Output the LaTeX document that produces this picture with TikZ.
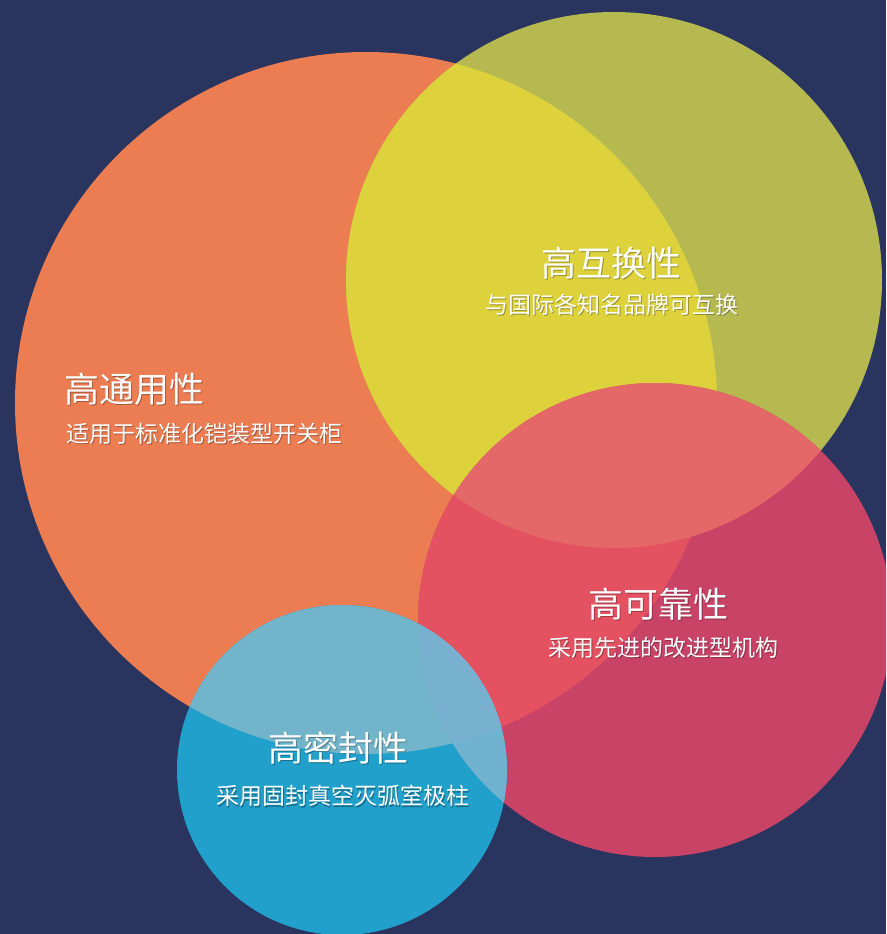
\documentclass[tikz,border=0pt]{standalone}
\usepackage{fontspec}
\newfontfamily\cjk{Noto Sans CJK SC}
\definecolor{navy}{HTML}{29345F}
\definecolor{corange}{HTML}{EC7D52}
\definecolor{colive}{HTML}{B5B950}
\definecolor{cyellow}{HTML}{DDD23C}
\definecolor{cpink}{HTML}{C84366}
\definecolor{cred}{HTML}{E45161}
\definecolor{csalmon}{HTML}{E36867}
\definecolor{cblue}{HTML}{21A0CB}
\definecolor{clblue}{HTML}{72B5CA}
\definecolor{cpblue}{HTML}{70B2CF}
\definecolor{copblue}{HTML}{78B0CF}
\tikzset{
  title/.style={text=white, font=\cjk\fontsize{35}{40}\selectfont, inner sep=0pt},
  sub/.style={text=white, font=\cjk\fontsize{23}{27}\selectfont, inner sep=0pt},
  shade/.style={text=black, opacity=0.3, inner sep=0pt},
}
\begin{document}
\begin{tikzpicture}[x=1pt, y=-1pt]
\useasboundingbox (0,0) rectangle (886,934);
\clip (0,0) rectangle (886,934);
\fill[navy] (0,0) rectangle (886,934);
\coordinate (co) at (366,403);
\coordinate (cy) at (614,280);
\coordinate (cp) at (655,620);
\coordinate (cb) at (342,770);
% base circles
\fill[corange] (co) circle (351pt);
\fill[colive] (cy) circle (268pt);
\fill[cpink] (cp) circle (237pt);
\fill[cblue] (cb) circle (165pt);
% overlaps
\begin{scope}\clip (co) circle (351pt); \fill[cyellow] (cy) circle (268pt); \end{scope}
\begin{scope}\clip (co) circle (351pt); \fill[cred] (cp) circle (237pt); \end{scope}
\begin{scope}\clip (cy) circle (268pt); \fill[csalmon] (cp) circle (237pt); \end{scope}
\begin{scope}\clip (co) circle (351pt); \fill[clblue] (cb) circle (165pt); \end{scope}
\begin{scope}\clip (cp) circle (237pt); \fill[cpblue] (cb) circle (165pt); \end{scope}
\begin{scope}\clip (cp) circle (237pt); \clip (co) circle (351pt); \fill[copblue] (cb) circle (165pt); \end{scope}
% texts
\node[title, shade] (t1s) at (612.2,264.2) {\cjk\fontsize{35}{40}\selectfont 高互换性};
\node[title] (t1) at (611,263) {高互换性};
\node[sub, shade] (s1s) at (613.2,306.2) {\cjk\fontsize{23}{27}\selectfont 与国际各知名品牌可互换};
\node[sub] (s1) at (612,305) {与国际各知名品牌可互换};
\node[title, shade, anchor=west] (t2s) at (65.2,390.2) {\cjk\fontsize{35}{40}\selectfont 高通用性};
\node[title, anchor=west] (t2) at (64,389) {高通用性};
\node[sub, shade, anchor=west] (s2s) at (67.2,435.2) {\cjk\fontsize{23}{27}\selectfont 适用于标准化铠装型开关柜};
\node[sub, anchor=west] (s2) at (66,434) {适用于标准化铠装型开关柜};
\node[title, shade] (t3s) at (659.2,605.2) {\cjk\fontsize{35}{40}\selectfont 高可靠性};
\node[title] (t3) at (658,604) {高可靠性};
\node[sub, shade] (s3s) at (664.2,649.2) {\cjk\fontsize{23}{27}\selectfont 采用先进的改进型机构};
\node[sub] (s3) at (663,648) {采用先进的改进型机构};
\node[title, shade] (t4s) at (339.2,749.2) {\cjk\fontsize{35}{40}\selectfont 高密封性};
\node[title] (t4) at (338,748) {高密封性};
\node[sub, shade] (s4s) at (344.2,797.2) {\cjk\fontsize{23}{27}\selectfont 采用固封真空灭弧室极柱};
\node[sub] (s4) at (343,796) {采用固封真空灭弧室极柱};
\end{tikzpicture}
\end{document}
